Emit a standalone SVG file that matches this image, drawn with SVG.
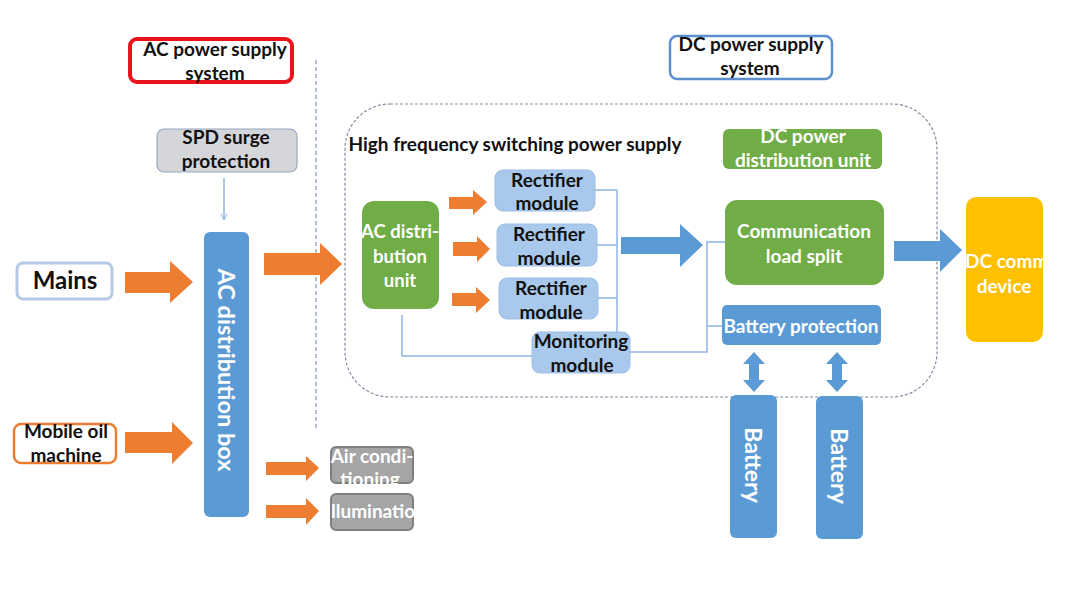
<svg xmlns="http://www.w3.org/2000/svg" width="1080" height="608" viewBox="0 0 1080 608">
<defs>
<style>
text{font-family:"Lato","Open Sans","Liberation Sans",sans-serif;font-weight:bold;text-anchor:middle;font-size:19px}
.dk{fill:#111}
.wt{fill:#fff}
.orange{fill:#ed7d31}
.blue{fill:#5b9bd5}
.green{fill:#70ad47}
.rect{fill:#a9c9ec;stroke:#9dbde5;stroke-width:1}
.gray{fill:#a5a5a5;stroke:#7f7f7f;stroke-width:2}
.conn{fill:none;stroke:#8eb4e3;stroke-width:1.5}
</style>
<marker id="open" viewBox="0 0 10 10" refX="9" refY="5" markerWidth="8" markerHeight="8" orient="auto" markerUnits="userSpaceOnUse">
<path d="M1,1 L9,5 L1,9" fill="none" stroke="#8eb4e3" stroke-width="1.2"/>
</marker>
</defs>
<rect width="1080" height="608" fill="#fff"/>

<g id="frames">
<line x1="316" y1="60" x2="316" y2="430" stroke="#8497b0" stroke-width="1.2" stroke-dasharray="4 3"/>
<rect x="345" y="104" width="592" height="293" rx="45" fill="none" stroke="#7f8c9e" stroke-width="1.2" stroke-dasharray="3 2"/>
</g>

<g id="ac-system-label">
<rect x="130" y="39" width="162" height="43" rx="7" fill="#fff" stroke="#e8141c" stroke-width="4"/>
<text x="215" y="56" class="dk">AC power supply</text>
<text x="215" y="80" class="dk">system</text>
</g>

<g id="dc-system-label">
<rect x="670" y="36" width="162" height="43" rx="7" fill="#fff" stroke="#5b8fd0" stroke-width="2.5"/>
<text x="751" y="51" class="dk">DC power supply</text>
<text x="750" y="75" class="dk">system</text>
</g>

<g id="spd">
<rect x="157" y="129" width="140" height="43" rx="7" fill="#d4d6da" stroke="#96a6bf" stroke-width="1.2"/>
<text x="226" y="144" class="dk">SPD surge</text>
<text x="226" y="168" class="dk">protection</text>
</g>

<g id="mains">
<rect x="17" y="263" width="95" height="36" rx="6" fill="#fff" stroke="#b4c9e6" stroke-width="3"/>
<text x="65" y="289" class="dk" style="font-size:24px">Mains</text>
</g>

<g id="mobile-oil">
<rect x="14" y="424" width="102" height="39" rx="7" fill="#fff" stroke="#ed7d31" stroke-width="2.5"/>
<text x="66" y="438" class="dk">Mobile oil</text>
<text x="66" y="462" class="dk">machine</text>
</g>

<g id="ac-box">
<rect x="204" y="232" width="45" height="285" rx="6" class="blue"/>
<text transform="translate(227,370) rotate(90)" class="wt" style="font-size:23.5px" dominant-baseline="central">AC distribution box</text>
</g>

<g id="air">
<rect x="331" y="447" width="82" height="36" rx="5" class="gray"/>
<text x="372" y="463" class="wt">Air condi-</text>
<text x="370" y="486" class="wt">tioning</text>
</g>

<g id="illumination">
<rect x="331" y="494" width="82" height="36" rx="5" class="gray"/>
<text x="331" y="518" class="wt" style="text-anchor:start">llumination</text>
</g>

<g id="hf-label">
<text x="515" y="151" class="dk">High frequency switching power supply</text>
</g>

<g id="ac-unit">
<rect x="362" y="201" width="77" height="108" rx="12" class="green"/>
<text x="400" y="238" class="wt" style="font-size:18.5px">AC distri-</text>
<text x="400" y="263" class="wt" style="font-size:18.5px">bution</text>
<text x="400" y="287" class="wt" style="font-size:18.5px">unit</text>
</g>

<g id="rect1">
<rect x="495" y="170" width="100" height="41" rx="8" class="rect"/>
<text x="547" y="187" class="dk">Rectifier</text>
<text x="547" y="210" class="dk">module</text>
</g>
<g id="rect2">
<rect x="497" y="224" width="100" height="42" rx="8" class="rect"/>
<text x="549" y="241" class="dk">Rectifier</text>
<text x="549" y="265" class="dk">module</text>
</g>
<g id="rect3">
<rect x="499" y="278" width="99" height="41" rx="8" class="rect"/>
<text x="551" y="295" class="dk">Rectifier</text>
<text x="551" y="319" class="dk">module</text>
</g>

<g id="monitoring">
<rect x="532" y="332" width="98" height="41" rx="8" class="rect"/>
<text x="581" y="348" class="dk">Monitoring</text>
<text x="582" y="372" class="dk">module</text>
</g>

<g id="dc-dist">
<rect x="723" y="129" width="159" height="40" rx="6" class="green"/>
<text x="803" y="143" class="wt">DC power</text>
<text x="803" y="167" class="wt">distribution unit</text>
</g>

<g id="comm-split">
<rect x="725" y="200" width="159" height="85" rx="12" class="green"/>
<text x="804" y="238" class="wt">Communication</text>
<text x="804" y="263" class="wt">load split</text>
</g>

<g id="battery-protection">
<rect x="722" y="305" width="159" height="40" rx="5" class="blue"/>
<text x="801" y="333" class="wt">Battery protection</text>
</g>

<g id="dc-device">
<rect x="966" y="197" width="77" height="145" rx="10" fill="#ffc000"/>
<text x="965" y="268" class="wt" style="text-anchor:start">DC comm</text>
<text x="1004" y="293" class="wt">device</text>
</g>

<g id="battery1">
<rect x="730" y="395" width="47" height="143" rx="6" class="blue"/>
<text transform="translate(754,465) rotate(90)" class="wt" style="font-size:23px" dominant-baseline="central">Battery</text>
</g>
<g id="battery2">
<rect x="816" y="396" width="47" height="143" rx="6" class="blue"/>
<text transform="translate(840,466) rotate(90)" class="wt" style="font-size:23px" dominant-baseline="central">Battery</text>
</g>

<g id="connectors">
<line x1="224" y1="178" x2="224" y2="220" class="conn" marker-end="url(#open)"/>
<polyline class="conn" points="595,190 617,190"/>
<polyline class="conn" points="597,245 617,245"/>
<polyline class="conn" points="598,298 617,298"/>
<polyline class="conn" points="617,190 617,332"/>
<polyline class="conn" points="402,315 402,356 532,356"/>
<polyline class="conn" points="630,352 707,352 707,242 725,242"/>
<polyline class="conn" points="707,326 722,326"/>
<polygon class="orange" points="125,272 170,272 170,261 193,282 170,303 170,293 125,293"/>
<polygon class="orange" points="125,432 172,432 172,422 193,443 172,464 172,453 125,453"/>
<polygon class="orange" points="264,253 320,253 320,243 342,264 320,285 320,275 264,275"/>
<polygon class="orange" points="266,462 306,462 306,456 319,468 306,481 306,475 266,475"/>
<polygon class="orange" points="266,505 306,505 306,498 319,511 306,525 306,518 266,518"/>
<polygon class="orange" points="449,197 473,197 473,190 487,202 473,215 473,209 449,209"/>
<polygon class="orange" points="453,242 477,242 477,236 490,249 477,262 477,256 453,256"/>
<polygon class="orange" points="452,293 476,293 476,287 490,300 476,313 476,306 452,306"/>
<polygon class="blue" points="621,237 680,237 680,224 703,245 680,267 680,254 621,254"/>
<polygon class="blue" points="894,241 940,241 940,229 962,250 940,272 940,261 894,261"/>
<polygon class="blue" points="754,352 765,364 759,364 759,380 765,380 754,392 743,380 749,380 749,364 743,364"/>
<polygon class="blue" points="837,352 848,364 842,364 842,380 848,380 837,392 826,380 832,380 832,364 826,364"/>
</g>
</svg>
